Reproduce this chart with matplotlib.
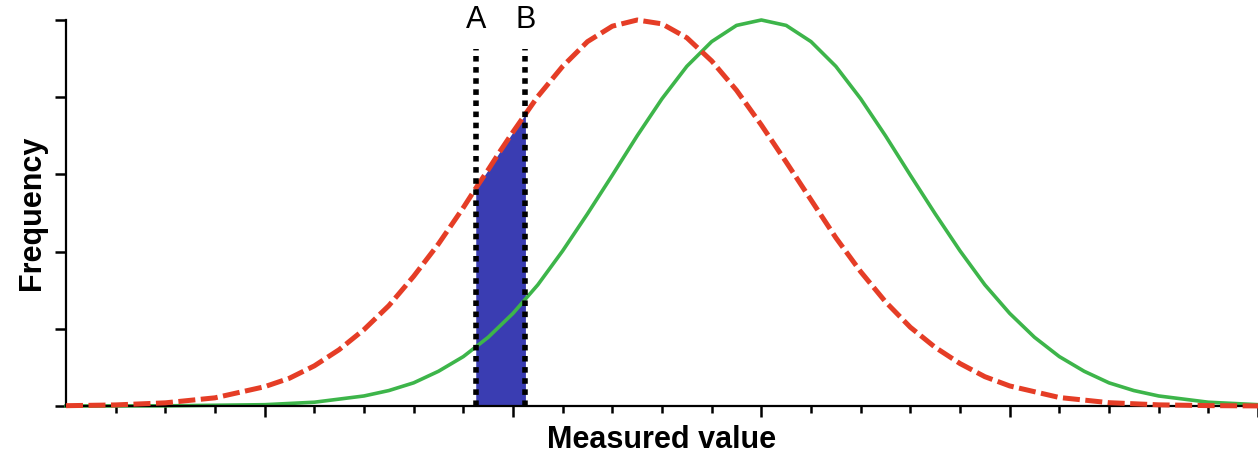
import matplotlib.pyplot as plt
from matplotlib.ticker import FixedLocator, MultipleLocator

# values (peak height = 5 ticks)
red_x = [-4, -3, -2, -1, 0, 0.5, 1, 1.5, 2, 2.5, 3, 3.5, 4, 4.25, 4.5, 4.75, 5, 5.25,
         5.5, 6, 6.5, 7, 7.5, 8, 8.5, 9, 9.5, 10, 10.5, 11, 11.5, 12, 12.5, 13,
         13.5, 14, 14.5, 15, 16, 17, 18, 19, 20]
red_y = [0.004, 0.014, 0.041, 0.106, 0.25, 0.36, 0.52, 0.73, 0.99, 1.30, 1.68, 2.10,
         2.57, 2.82, 3.06, 3.31, 3.55, 3.78, 4.01, 4.40, 4.72, 4.92, 5.00, 4.95,
         4.77, 4.47, 4.09, 3.64, 3.16, 2.67, 2.18, 1.74, 1.35, 1.02, 0.76, 0.55,
         0.38, 0.26, 0.11, 0.043, 0.015, 0.005, 0.001]

green_x = [-4, -2, 0, 1, 2, 2.5, 3, 3.5, 4, 4.5, 5, 5.5, 6, 6.5, 7, 7.5, 8, 8.5,
           9, 9.5, 10, 10.5, 11, 11.5, 12, 12.5, 13, 13.5, 14, 14.5, 15, 15.5,
           16, 16.5, 17, 17.5, 18, 19, 20]
green_y = [0.0, 0.002, 0.017, 0.049, 0.13, 0.20, 0.30, 0.45, 0.64, 0.89, 1.20, 1.57,
           2.01, 2.49, 2.99, 3.50, 3.98, 4.40, 4.72, 4.93, 5.00, 4.93, 4.72, 4.40,
           3.98, 3.50, 2.99, 2.49, 2.01, 1.57, 1.20, 0.89, 0.64, 0.45, 0.30, 0.20,
           0.13, 0.049, 0.017]

cut_a, cut_b = 4.25, 5.25
cut_labels = ["A", "B"]
cut_top = 4.62

fig = plt.figure(figsize=(12.58, 4.62), dpi=100)
ax = fig.add_axes([66 / 1258, 56 / 462, 1 - 66 / 1258, 386 / 462])

# shaded region between A and B under the red curve
fx = [x for x in red_x if cut_a <= x <= cut_b]
fy = [y for x, y in zip(red_x, red_y) if cut_a <= x <= cut_b]
ax.fill_between(fx, 0, fy, color="#3a3db2", lw=0, zorder=1)

ax.plot(red_x, red_y, color="#e53d26", lw=3.6, ls=(0, (3.4, 1.1)),
        clip_on=False, zorder=3)
ax.plot(green_x, green_y, color="#3db54a", lw=2.6, clip_on=False, zorder=2)

for xc, lab in zip([cut_a, cut_b], cut_labels):
    ax.plot([xc, xc], [0, cut_top], color="black", lw=4.0, ls=(0, (1, 1)),
            clip_on=False, zorder=4)
    ax.text(xc, 5.0, lab, ha="center", va="center", fontsize=22,
            family="Liberation Sans")

ax.set_xlim(-4, 20)
ax.set_ylim(0, 5)
for s in ["top", "right"]:
    ax.spines[s].set_visible(False)
for s in ["left", "bottom"]:
    ax.spines[s].set_linewidth(1.6)

ax.xaxis.set_major_locator(MultipleLocator(5))
ax.xaxis.set_minor_locator(FixedLocator(list(range(-3, 21))))
ax.yaxis.set_major_locator(MultipleLocator(1))
ax.tick_params(axis="x", which="major", length=8, width=1.8, direction="out")
ax.tick_params(axis="x", which="minor", length=5, width=1.8, direction="out")
ax.tick_params(axis="y", which="major", length=8, width=1.8, direction="out")
ax.tick_params(labelbottom=False, labelleft=False)

ax.set_xlabel("Measured value", fontsize=22, fontweight="bold",
              family="Liberation Sans", labelpad=5)
ax.set_ylabel("Frequency", fontsize=22, fontweight="bold",
              family="Liberation Sans", labelpad=6)

fig.savefig("out.png", dpi=100)
